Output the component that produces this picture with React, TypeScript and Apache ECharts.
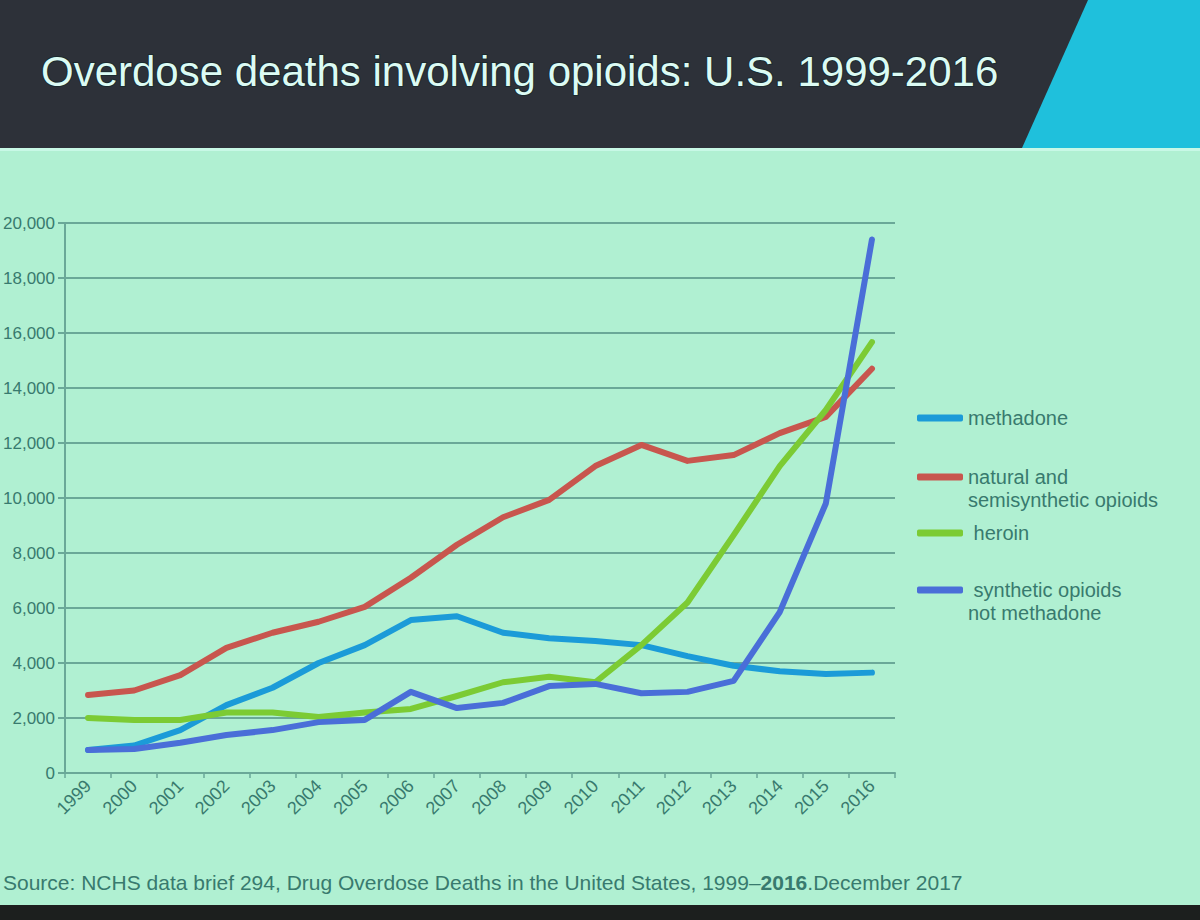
import React, { useEffect, useRef } from "react";
import * as echarts from "echarts";

const years = ["1999","2000","2001","2002","2003","2004","2005","2006","2007","2008","2009","2010","2011","2012","2013","2014","2015","2016"];
const methadone = [840, 1000, 1560, 2470, 3100, 4000, 4650, 5560, 5700, 5100, 4900, 4800, 4650, 4250, 3900, 3700, 3600, 3650];
const natural = [2840, 3000, 3560, 4550, 5100, 5500, 6040, 7100, 8300, 9300, 9930, 11160, 11930, 11350, 11560, 12360, 12950, 14700];
const heroin = [2000, 1930, 1930, 2200, 2200, 2040, 2200, 2330, 2800, 3300, 3500, 3300, 4650, 6200, 8650, 11160, 13200, 15670];
const synthetic = [840, 870, 1100, 1380, 1560, 1850, 1930, 2950, 2360, 2550, 3160, 3240, 2900, 2950, 3350, 5850, 9800, 19400];

const seriesNames = ["methadone", "natural and semisynthetic opioids", "heroin", "synthetic opioids not methadone"];
const legendLabels = ["methadone", "\nnatural and\nsemisynthetic opioids", " heroin", "\n synthetic opioids\nnot methadone"];
const seriesColors = ["#1b9bd8", "#c8564e", "#7ccb34", "#4a6ed8"];
const seriesData = [methadone, natural, heroin, synthetic];
const legendCenters = [418, 477, 533, 590];

const TEXT = "#387a6e";
const GRID = "#6aa898";
const FONT = "Liberation Sans, Arial, sans-serif";

export default function App() {
  const ref = useRef<HTMLDivElement>(null);
  useEffect(() => {
    if (!ref.current) return;
    const chart = echarts.init(ref.current, undefined, { renderer: "svg" });
    chart.setOption({
      animation: false,
      backgroundColor: "#b0f0d2",
      textStyle: { fontFamily: FONT },
      graphic: [
        { type: "rect", z: -10, shape: { x: 0, y: 0, width: 1200, height: 148 }, style: { fill: "#2d3139" } },
        { type: "polygon", z: -9, shape: { points: [[1088, 0], [1200, 0], [1200, 148], [1022, 148]] }, style: { fill: "#1fc0dc" } },
        { type: "rect", z: -10, shape: { x: 0, y: 148, width: 1200, height: 3 }, style: { fill: "#c8f8e6" } },
        { type: "rect", z: -10, shape: { x: 0, y: 905, width: 1200, height: 15 }, style: { fill: "#1c1f1e" } },
        {
          type: "text",
          left: 3,
          top: 872,
          style: {
            text: "{a|Source: NCHS data brief 294, Drug Overdose Deaths in the United States, 1999–}{b|2016}{a|.December 2017}",
            rich: {
              a: { fontSize: 21, fill: TEXT, fontFamily: FONT },
              b: { fontSize: 21, fill: TEXT, fontWeight: "bold", fontFamily: FONT },
            },
          },
        },
      ],
      title: {
        text: "Overdose deaths involving opioids: U.S. 1999-2016",
        left: 36,
        top: 45,
        textStyle: {
          fontSize: 42,
          fontWeight: "normal",
          color: "#dcfbf4",
          textBorderColor: "#1b2a2e",
          textBorderWidth: 2,
          fontFamily: FONT,
        },
      },
      legend: seriesNames.map((n, i) => {
        const lines = legendLabels[i].split("\n").length;
        const half = (lines * 23) / 2;
        return {
          data: [n],
          left: 912,
          top: legendCenters[i] - half - 5,
          orient: "vertical",
          icon: "roundRect",
          itemWidth: 46,
          itemHeight: 7,
          selectedMode: false,
          formatter: () => legendLabels[i],
          textStyle: { fontSize: 20, color: TEXT, lineHeight: 23 },
        };
      }),
      grid: { left: 55, right: 305, top: 223, bottom: 147, containLabel: false },
      xAxis: {
        type: "category",
        data: years,
        boundaryGap: true,
        axisLine: { lineStyle: { color: GRID, width: 2 } },
        axisTick: { show: true, length: 5, lineStyle: { color: GRID, width: 1.5 } },
        axisLabel: { rotate: 45, fontSize: 18, color: TEXT, margin: 10, interval: 0 },
      },
      yAxis: {
        type: "value",
        min: 0,
        max: 20000,
        interval: 2000,
        axisLine: { show: true, lineStyle: { color: GRID, width: 2 } },
        axisTick: { show: true, length: 7, lineStyle: { color: GRID, width: 2 } },
        splitLine: { lineStyle: { color: GRID, width: 2 } },
        axisLabel: {
          fontSize: 17,
          color: TEXT,
          margin: 10,
          formatter: (v: number) => v.toLocaleString("en-US"),
        },
      },
      series: seriesNames.map((n, i) => ({
        name: n,
        type: "line",
        data: seriesData[i],
        showSymbol: false,
        symbol: "none",
        lineStyle: { color: seriesColors[i], width: 6, cap: "round", join: "round" },
        itemStyle: { color: seriesColors[i] },
      })),
    });
    return () => chart.dispose();
  }, []);
  return <div ref={ref} style={{ position: "absolute", left: 0, top: 0, width: 1200, height: 920 }} />;
}
